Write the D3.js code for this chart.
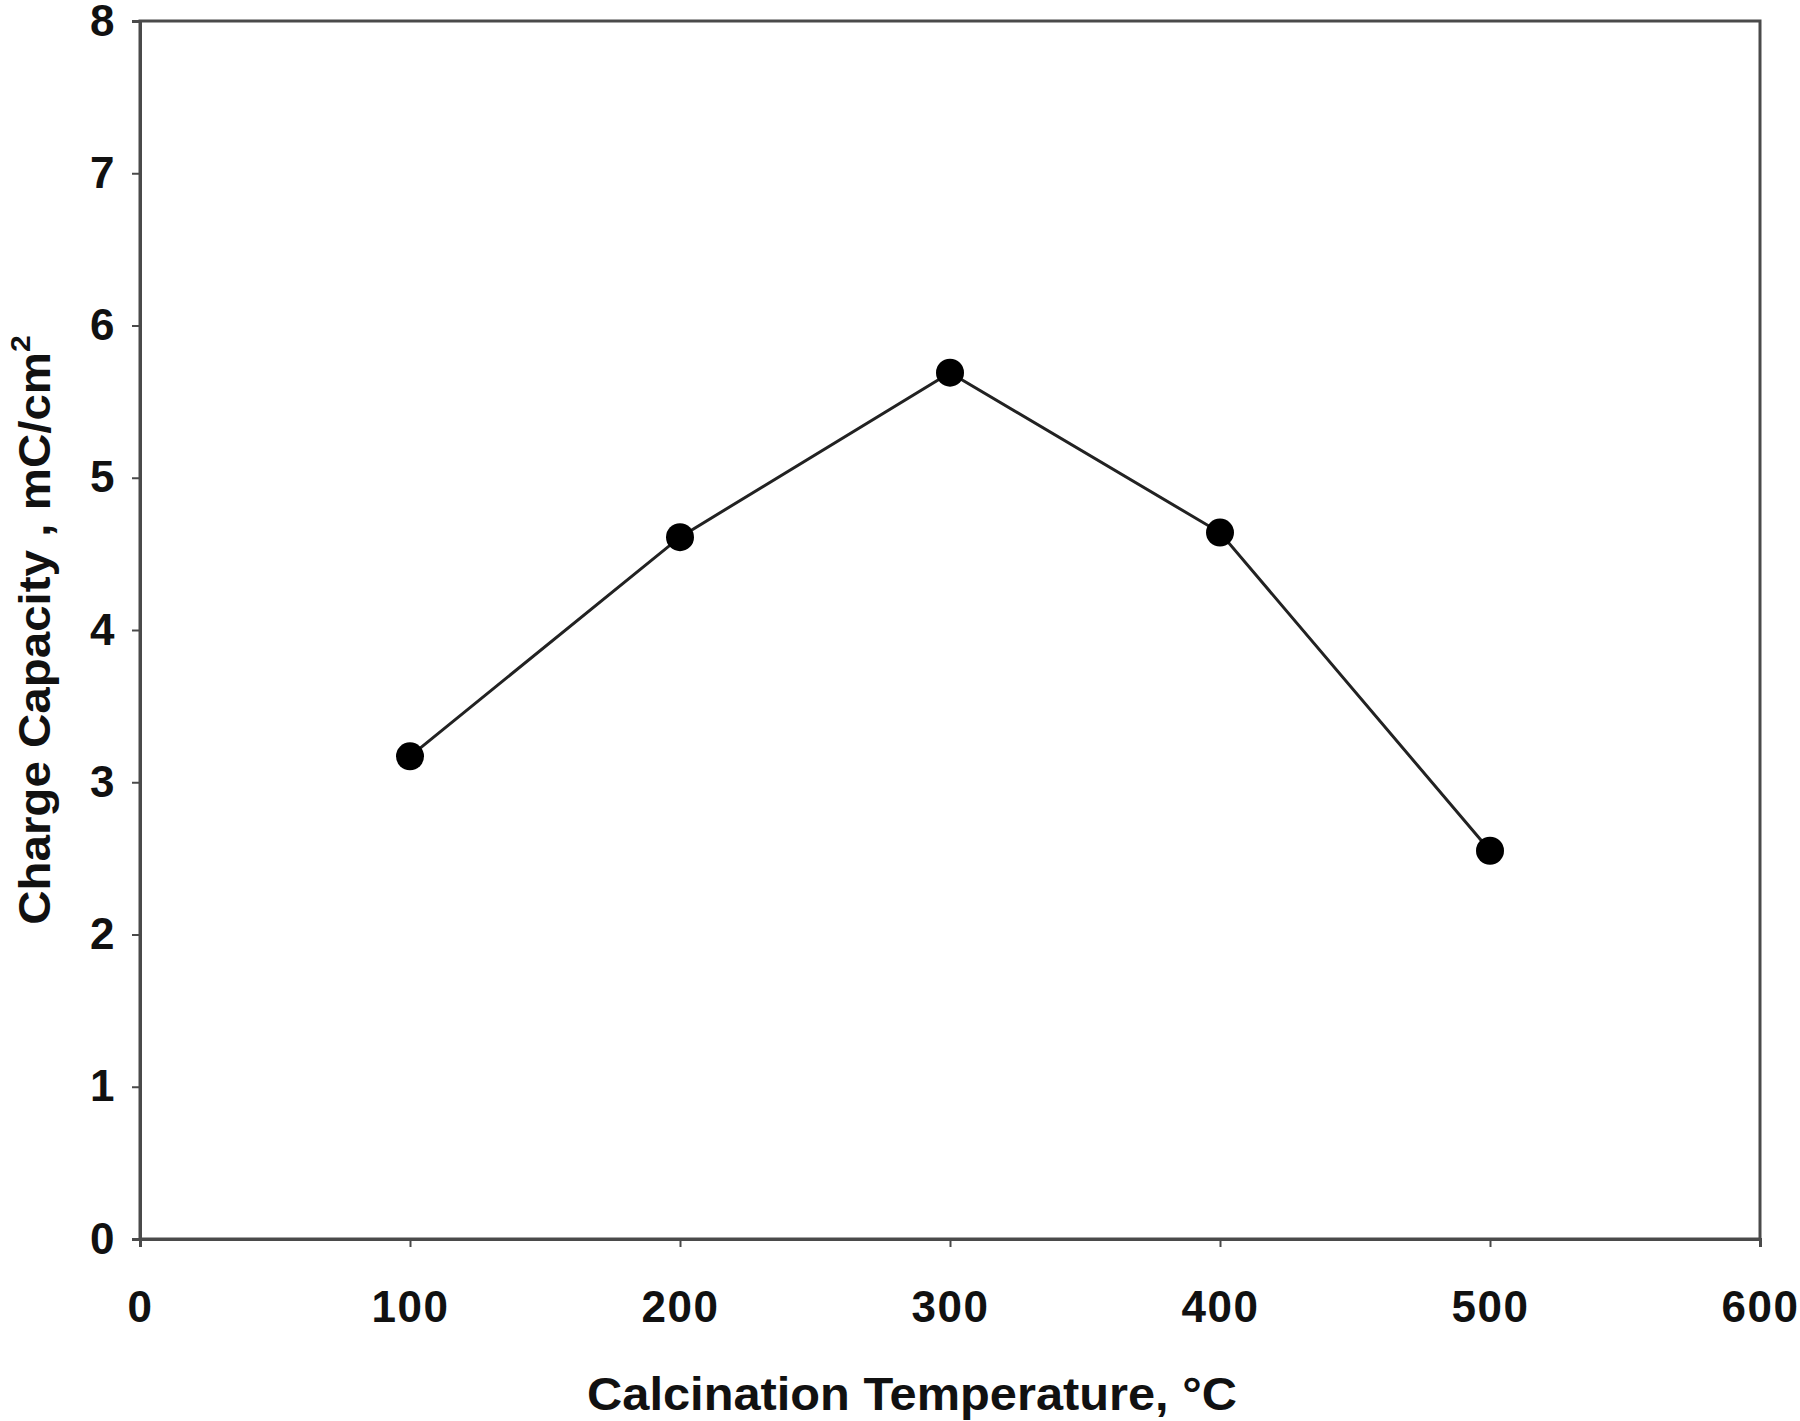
<!DOCTYPE html>
<html><head><meta charset="utf-8">
<script src="https://cdn.jsdelivr.net/npm/d3@7"></script>
<style>body{margin:0;background:#fff}svg{display:block}</style>
</head><body>
<script>
const temps = [100, 200, 300, 400, 500];
const capacity = [3.17, 4.61, 5.69, 4.64, 2.55];
const xTicks = [0, 100, 200, 300, 400, 500, 600];
const yTicks = [0, 1, 2, 3, 4, 5, 6, 7, 8];

const W = 1800, H = 1421;
const m = {left: 140, right: 40, top: 21, bottom: 182};
const svg = d3.select("body").append("svg").attr("width", W).attr("height", H);
const x = d3.scaleLinear().domain([0, 600]).range([m.left, W - m.right]);
const y = d3.scaleLinear().domain([0, 8]).range([H - m.bottom, m.top]);
const font = "'Liberation Sans', Arial, sans-serif";
const axisColor = "#4a4a4a";

// frame
svg.append("rect").attr("x", x(0)).attr("y", y(8)).attr("width", x(600) - x(0)).attr("height", y(0) - y(8))
  .attr("fill", "none").attr("stroke", axisColor).attr("stroke-width", 3);

const xAxis = svg.append("g").attr("transform", `translate(0,${y(0)})`)
  .call(d3.axisBottom(x).tickValues(xTicks).tickSize(8).tickPadding(44).tickFormat(d3.format("d")));
const yAxis = svg.append("g").attr("transform", `translate(${x(0)},0)`)
  .call(d3.axisLeft(y).tickValues(yTicks).tickSize(8).tickPadding(16).tickFormat(d3.format("d")));
[xAxis, yAxis].forEach(g => {
  g.select(".domain").attr("stroke", axisColor).attr("stroke-width", 3);
  g.selectAll(".tick line").attr("stroke", axisColor).attr("stroke-width", 2);
  g.selectAll("text").attr("font-family", font).attr("font-weight", "bold").attr("font-size", 44)
    .attr("letter-spacing", 1.5).attr("fill", "#111");
});
xAxis.selectAll("text").attr("dy", "0.71em");

// line
svg.append("path").datum(d3.zip(temps, capacity))
  .attr("d", d3.line().x(d => x(d[0])).y(d => y(d[1])))
  .attr("fill", "none").attr("stroke", "#222").attr("stroke-width", 3);
svg.selectAll("circle.pt").data(d3.zip(temps, capacity)).join("circle")
  .attr("class", "pt").attr("cx", d => x(d[0])).attr("cy", d => y(d[1])).attr("r", 14).attr("fill", "#000");

// labels
svg.append("text").attr("transform", "translate(912,1410) scale(1.06,1)").attr("text-anchor", "middle")
  .attr("font-family", font).attr("font-weight", "bold").attr("font-size", 46).attr("fill", "#111")
  .text("Calcination Temperature, °C");
const yl = svg.append("text").attr("transform", "translate(50,630) rotate(-90) scale(1.08,1)").attr("text-anchor", "middle")
  .attr("font-family", font).attr("font-weight", "bold").attr("font-size", 44).attr("fill", "#111");
yl.append("tspan").text("Charge Capacity , mC/cm");
yl.append("tspan").attr("font-size", 28).attr("dy", -20).text("2");
</script>
</body></html>
